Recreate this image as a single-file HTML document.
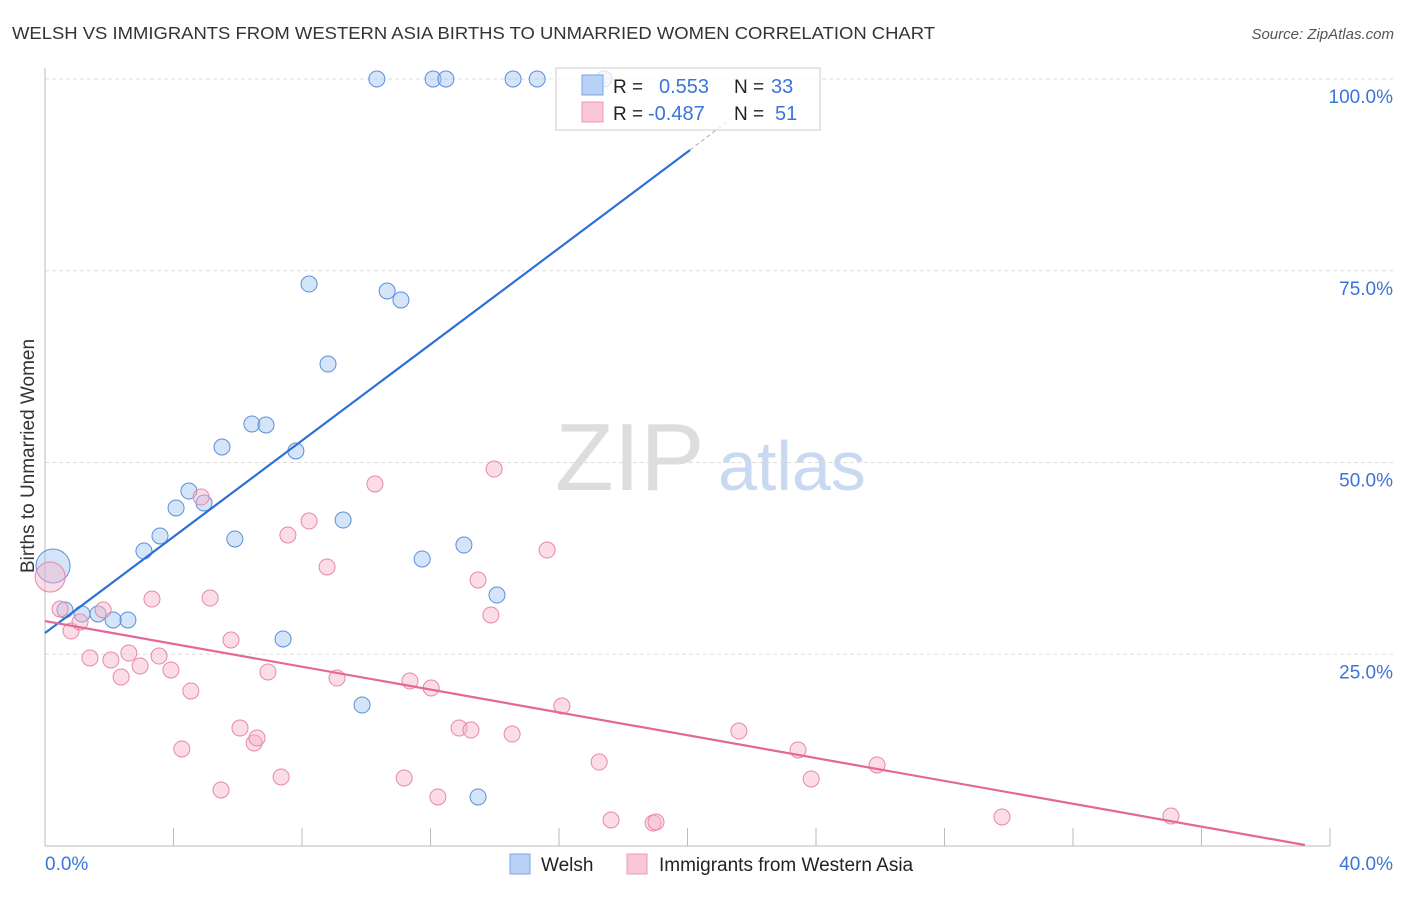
<!DOCTYPE html>
<html><head><meta charset="utf-8"><style>
body{margin:0;background:#fff;font-family:"Liberation Sans",sans-serif;}
svg text{font-family:"Liberation Sans",sans-serif;}
</style></head><body>
<svg id="chart" width="1406" height="892">
<text x="12" y="39" font-size="17.5" fill="#333" textLength="923" lengthAdjust="spacingAndGlyphs">WELSH VS IMMIGRANTS FROM WESTERN ASIA BIRTHS TO UNMARRIED WOMEN CORRELATION CHART</text>
<text x="1394" y="39" font-size="15" fill="#555" font-style="italic" text-anchor="end">Source: ZipAtlas.com</text>
<text x="34" y="456" font-size="19" fill="#333" text-anchor="middle" transform="rotate(-90 34 456)">Births to Unmarried Women</text>
<text x="555" y="490" font-size="96" fill="#ddd" font-family="Liberation Serif">ZIP</text>
<text x="718" y="490" font-size="70" fill="#c9d9f2">atlas</text>
<g id="grid"></g><g id="pts"></g><g id="lines"></g>
<g>
<rect x="556" y="68" width="264" height="62" fill="rgba(255,255,255,0.75)" stroke="#ccc"/>
<rect x="582" y="75" width="21" height="20" fill="#b8d1f5" stroke="#7aa6e8"/>
<rect x="582" y="102" width="21" height="20" fill="#f9c6d6" stroke="#ee9ab4"/>
<text x="613" y="93" font-size="19" fill="#222">R =</text><text x="659" y="93" font-size="20" fill="#3a75d8">0.553</text>
<text x="734" y="93" font-size="19" fill="#222">N =</text><text x="771" y="93" font-size="20" fill="#3a75d8">33</text>
<text x="613" y="120" font-size="19" fill="#222">R =</text><text x="648" y="120" font-size="20" fill="#3a75d8">-0.487</text>
<text x="734" y="120" font-size="19" fill="#222">N =</text><text x="775" y="120" font-size="20" fill="#3a75d8">51</text>
</g>
<g>
<rect x="510" y="854" width="20" height="20" fill="#b8d1f5" stroke="#7aa6e8"/>
<text x="541" y="871" font-size="19" fill="#222">Welsh</text>
<rect x="627" y="854" width="20" height="20" fill="#f9c6d6" stroke="#ee9ab4"/>
<text x="659" y="871" font-size="19" fill="#222">Immigrants from Western Asia</text>
</g>
<text x="45" y="870" font-size="19" fill="#3a75d8">0.0%</text>
<text x="1393" y="870" font-size="19" fill="#3a75d8" text-anchor="end">40.0%</text>
</svg>
<script>
const blueX=[10.33,12.08,12.48,14.57,15.32,17.40,8.22,10.65,11.08,8.81,6.44,6.88,5.51,7.81,4.48,4.08,4.95,9.28,3.58,5.91,3.08,13.04,11.74,14.07,2.58,2.12,1.65,1.15,0.62,0.25,7.41,9.87,13.48];
const blueY=[100,100,100,100,100,100,73.27,72.36,71.19,62.84,55.02,54.89,52.02,51.5,46.28,44.07,44.72,42.5,40.42,40.03,38.46,39.24,37.42,32.72,29.47,29.47,30.25,30.25,30.77,36.51,26.99,18.38,6.39];
const pinkX=[0.16,0.47,0.81,1.09,1.81,1.40,2.05,2.37,2.61,2.96,3.33,3.55,3.92,4.26,4.54,4.86,5.14,5.48,5.79,6.07,6.51,6.60,6.94,7.35,7.56,8.22,8.78,9.09,10.27,11.18,11.36,12.02,12.23,12.89,13.26,13.48,13.88,13.98,14.54,15.63,16.09,17.25,17.62,18.93,19.02,21.60,23.44,23.85,25.90,29.79,35.05];
const pinkY=[35.07,30.9,28.03,29.21,30.77,24.51,24.25,22.03,25.16,23.47,32.2,24.77,22.95,12.65,20.21,45.5,32.33,7.3,26.86,15.38,13.43,14.08,22.69,9.0,40.55,42.37,36.38,21.9,47.2,8.87,21.51,20.6,6.39,15.38,15.12,34.68,30.12,49.15,14.6,38.59,18.25,10.95,3.39,3.0,3.13,14.99,12.52,8.74,10.56,3.78,3.91];
const yTicks=[25,50,75,100];
const xTicks=[0,4,8,12,16,20,24,28,32,36,40];
const blueLine=[0,27.77,20.08,90.74,21.5,95.3];
const pinkLine=[0,29.33,39.22,0.13];
const NS="http://www.w3.org/2000/svg";
const X=v=>45+v/40*1285, Y=v=>846-v/100*767;
function mk(t,a,p){const e=document.createElementNS(NS,t);for(const k in a)e.setAttribute(k,a[k]);p.appendChild(e);return e;}
const g=document.getElementById('grid');
yTicks.forEach(t=>{
 const l=mk('line',{x1:45,x2:1394,y1:Y(t),y2:Y(t),stroke:'#ddd','stroke-dasharray':'4,3'},g);
 
 
 const tx=mk('text',{x:1393,y:Y(t)+24,'font-size':19,fill:'#3a75d8','text-anchor':'end'},g);tx.textContent=t.toFixed(1)+'%';
 
 
});
mk('line',{x1:45,x2:45,y1:68,y2:846,stroke:'#bbb'},g);
mk('line',{x1:45,x2:1330,y1:846,y2:846,stroke:'#bbb'},g);
xTicks.forEach(t=>{const l=mk('line',{x1:X(t),x2:X(t),y1:828,y2:846,stroke:'#bbb'},g);
 
 });
const p=document.getElementById('pts');
blueX.forEach((v,i)=>{const r=i==29?17:8;const c=mk('circle',{cx:X(v),cy:Y(blueY[i]),r:r,fill:'rgba(160,196,242,0.45)',stroke:'#5b8fd9','stroke-width':1},p);
 
 });
pinkX.forEach((v,i)=>{const r=i==0?15:8;const c=mk('circle',{cx:X(v),cy:Y(pinkY[i]),r:r,fill:'rgba(246,180,202,0.45)',stroke:'#e887a8','stroke-width':1},p);
 
 });
const L=document.getElementById('lines');
const b1=mk('line',{x1:X(blueLine[0]),y1:Y(blueLine[1]),x2:X(blueLine[2]),y2:Y(blueLine[3]),stroke:'#2f6fd6','stroke-width':2.2},L);


mk('line',{x1:X(blueLine[2]),y1:Y(blueLine[3]),x2:X(blueLine[4]),y2:Y(blueLine[5]),stroke:'#aac','stroke-width':1,'stroke-dasharray':'4,3'},L);
const p1=mk('line',{x1:X(pinkLine[0]),y1:Y(pinkLine[1]),x2:X(pinkLine[2]),y2:Y(pinkLine[3]),stroke:'#e3679a','stroke-width':2.2},L);


</script>
</body></html>
